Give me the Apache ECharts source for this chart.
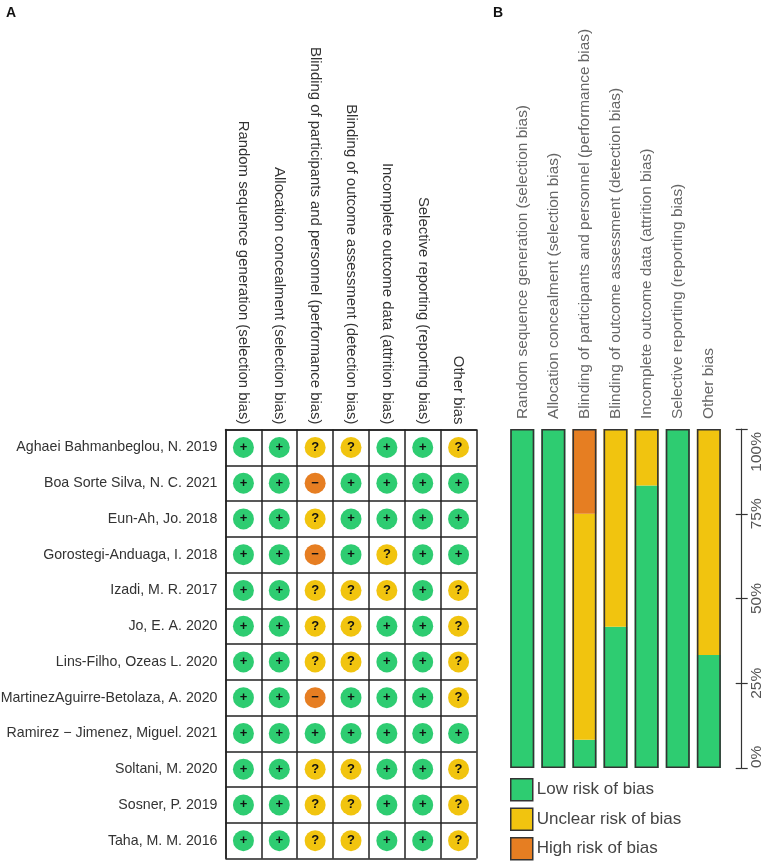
<!DOCTYPE html>
<html><head><meta charset="utf-8">
<style>html,body{margin:0;padding:0;background:#fff}#c{width:767px;height:863px}</style>
<script src="https://cdn.jsdelivr.net/npm/echarts@6/dist/echarts.min.js"></script>
</head><body><div id="c"></div>
<script>
const domains = [
 "Random sequence generation (selection bias)",
 "Allocation concealment (selection bias)",
 "Blinding of participants and personnel (performance bias)",
 "Blinding of outcome assessment (detection bias)",
 "Incomplete outcome data (attrition bias)",
 "Selective reporting (reporting bias)",
 "Other bias"];
const studies = [
 "Aghaei Bahmanbeglou, N. 2019","Boa Sorte Silva, N. C. 2021","Eun-Ah, Jo. 2018",
 "Gorostegi-Anduaga, I. 2018","Izadi, M. R. 2017","Jo, E. A. 2020","Lins-Filho, Ozeas L. 2020",
 "MartinezAguirre-Betolaza, A. 2020","Ramirez \u2212 Jimenez, Miguel. 2021","Soltani, M. 2020",
 "Sosner, P. 2019","Taha, M. M. 2016"];
const ratings = [
 "++??++?","++-++++","++?++++","++-+?++","++???+?","++??++?",
 "++??++?","++-+++?","+++++++","++??++?","++??++?","++??++?"];
const lowRisk = [100,100,8.33,41.67,83.33,100,33.33];
const unclearRisk = [0,0,66.67,58.33,16.67,0,66.67];
const highRisk = [0,0,25,0,0,0,0];
const outline = [100,100,100,100,100,100,100];

const GREEN="#2ecc71", YELLOW="#f1c40f", ORANGE="#e67e22";
const colorOf={"+":GREEN,"?":YELLOW,"-":ORANGE};
const glyphOf={"+":"+","?":"?","-":"\u2212"};
const pts=[];
ratings.forEach((r,y)=>[...r].forEach((s,x)=>pts.push({value:[x,y],s})));
const FONT='"Liberation Sans",Arial,sans-serif';

const chart=echarts.init(document.getElementById('c'),null,{renderer:'canvas'});
chart.setOption({
 animation:false,
 backgroundColor:'#fff',
 title:[
  {text:'A',left:1,top:1,textStyle:{fontFamily:FONT,fontSize:14,fontWeight:'bold',color:'#111'}},
  {text:'B',left:488,top:1,textStyle:{fontFamily:FONT,fontSize:14,fontWeight:'bold',color:'#111'}}
 ],
 grid:[
  {left:225.5,top:429.5,width:251,height:429,show:false,outerBoundsMode:'none'},
  {left:506.7,top:429,width:217.7,height:339,show:false,outerBoundsMode:'none'}
 ],
 legend:{
  data:['Low risk of bias','Unclear risk of bias','High risk of bias'],
  orient:'vertical',left:510,top:778,height:100,padding:0,itemWidth:22,itemHeight:22,itemGap:6,
  icon:'rect',
  textStyle:{fontFamily:FONT,fontSize:17,color:'#444',padding:[2,0,0,-1]},
  itemStyle:{borderColor:'#333',borderWidth:1.5}
 },
 xAxis:[
  {gridIndex:0,type:'category',data:domains,position:'top',
   axisLine:{show:true,lineStyle:{color:'#222',width:1.5}},axisTick:{show:false},
   splitLine:{show:true,lineStyle:{color:'#222',width:1.5}},
   axisLabel:{interval:0,rotate:90,margin:5,fontFamily:FONT,fontSize:14.9,color:'#333'}},
  {gridIndex:1,type:'category',data:domains,position:'top',
   axisLine:{show:false},axisTick:{show:false},
   axisLabel:{interval:0,rotate:90,margin:10,fontFamily:FONT,fontSize:15.4,color:'#666'}}
 ],
 yAxis:[
  {gridIndex:0,type:'category',data:studies,inverse:true,
   axisLine:{show:true,lineStyle:{color:'#222',width:1.5}},axisTick:{show:false},
   splitLine:{show:true,lineStyle:{color:'#222',width:1.5}},
   axisLabel:{interval:0,margin:8,fontFamily:FONT,fontSize:14.2,color:'#333'}},
  {gridIndex:1,type:'value',min:0,max:100,interval:25,position:'right',offset:17.3,
   axisLine:{show:true,lineStyle:{color:'#333',width:1.2}},
   axisTick:{show:true,length:6,lineStyle:{color:'#333',width:1.2}},
   splitLine:{show:false},
   axisLabel:{rotate:90,margin:7,fontFamily:FONT,fontSize:15.5,color:'#555',
     alignMinLabel:'left',alignMaxLabel:'right',
     formatter:v=>v===100?'{m|'+v+'%}':v+'%',
     rich:{m:{fontFamily:FONT,fontSize:15.5,color:'#555',padding:[0,3,0,0]}}}},
  {gridIndex:1,type:'value',min:0,max:100,interval:25,position:'right',offset:17.3,
   axisLine:{show:false},
   axisTick:{show:true,inside:true,length:6,lineStyle:{color:'#333',width:1.2}},
   splitLine:{show:false},axisLabel:{show:false}}
 ],
 series:[
  {type:'scatter',xAxisIndex:0,yAxisIndex:0,symbol:'circle',symbolSize:21,silent:true,
   itemStyle:{opacity:1},
   data:pts.map(p=>({value:p.value,itemStyle:{color:colorOf[p.s],opacity:1},
     label:{formatter:glyphOf[p.s]}})),
   label:{show:true,position:'inside',fontFamily:FONT,fontWeight:'bold',fontSize:13,color:'#111'}},
  {name:'Low risk of bias',type:'bar',stack:'r',xAxisIndex:1,yAxisIndex:1,data:lowRisk,barWidth:24,itemStyle:{color:GREEN}},
  {name:'Unclear risk of bias',type:'bar',stack:'r',xAxisIndex:1,yAxisIndex:1,data:unclearRisk,barWidth:24,itemStyle:{color:YELLOW}},
  {name:'High risk of bias',type:'bar',stack:'r',xAxisIndex:1,yAxisIndex:1,data:highRisk,barWidth:24,itemStyle:{color:ORANGE}},
  {name:'outline',type:'bar',xAxisIndex:1,yAxisIndex:1,data:outline,barWidth:24,barGap:'-100%',silent:true,z:5,
   itemStyle:{color:'rgba(0,0,0,0)',borderColor:'#333',borderWidth:1.6}}
 ]
});
</script></body></html>
